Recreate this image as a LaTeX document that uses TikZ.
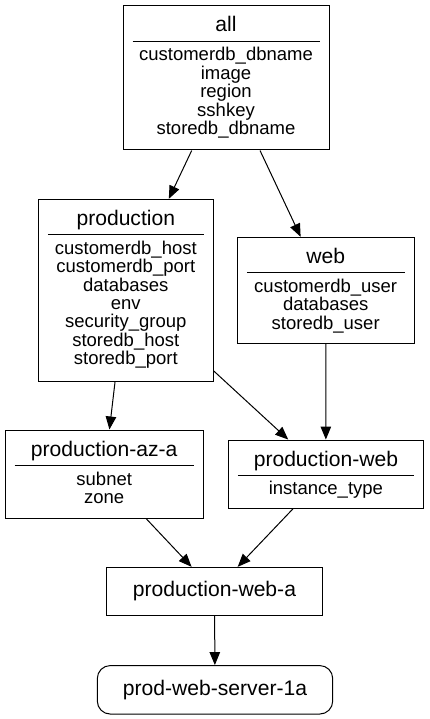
\documentclass[tikz,border=0pt]{standalone}
\usepackage{fontspec}
\setmainfont{Liberation Sans}
\usetikzlibrary{arrows.meta}
\tikzset{
  grp/.style={draw,line width=1pt,inner sep=0pt,fill=white},
  ttl/.style={font=\fontsize{21.1}{22}\selectfont,anchor=base,inner sep=0pt},
  var/.style={font=\fontsize{18.5}{18.4}\selectfont,anchor=base,inner sep=0pt},
  sep/.style={line width=1pt},
  dep/.style={-{Triangle[length=13pt,width=10.5pt]},line width=1pt}
}

\begin{document}
\begin{tikzpicture}[x=1pt,y=-1pt]
    \useasboundingbox (0,0) rectangle (429,719);
    % group boxes
    \node[grp,minimum width=206,minimum height=144] (all) at (226,78) {};
    \node[grp,minimum width=175,minimum height=181.7] (prod) at (125.8,290.2) {};
    \node[grp,minimum width=176.7,minimum height=106] (web) at (325.7,290.3) {};
    \node[grp,minimum width=198.3,minimum height=88] (prodaz) at (104.2,474) {};
    \node[grp,minimum width=195.2,minimum height=68.3] (prodweb) at (325.9,474.2) {};
    \node[grp,minimum width=215.6,minimum height=47.7,font=\fontsize{21.1}{22}\selectfont] (prodweba) at (214.5,591.2) {production-web-a};
    \node[grp,rounded corners=13pt,minimum width=235.4,minimum height=48.5,font=\fontsize{21.1}{22}\selectfont] (server) at (215,689.8) {prod-web-server-1a};
    % titles and rules
    \foreach \g/\t in {all/all,prod/production,web/web,prodaz/production-az-a,prodweb/production-web} {
      \node[ttl] (\g-title) at ([yshift=-26.5pt]\g.north) {\t};
      \draw[sep] ([xshift=10pt,yshift=-36pt]\g.north west) -- ([xshift=-10pt,yshift=-36pt]\g.north east);
    }
    % variables
    \foreach \v [count=\i from 0] in {customerdb\_dbname,image,region,sshkey,storedb\_dbname}
      \node[var] (all-\i) at ([yshift={-55.5-18.4*\i}]all.north) {\v};
    \foreach \v [count=\i from 0] in {customerdb\_host,customerdb\_port,databases,env,security\_group,storedb\_host,storedb\_port}
      \node[var] (prod-\i) at ([yshift={-55.5-18.4*\i}]prod.north) {\v};
    \foreach \v [count=\i from 0] in {customerdb\_user,databases,storedb\_user}
      \node[var] (web-\i) at ([yshift={-55.5-18.4*\i}]web.north) {\v};
    \foreach \v [count=\i from 0] in {subnet,zone}
      \node[var] (prodaz-\i) at ([yshift={-55.5-18.4*\i}]prodaz.north) {\v};
    \node[var] (prodweb-0) at ([yshift=-54.5pt]prodweb.north) {instance\_type};
    % edges
    \draw[dep] (all) -- (prod);
    \draw[dep] (all) -- (web);
    \draw[dep] (prod) -- (prodaz);
    \draw[dep] (prod) -- (prodweb);
    \draw[dep] (web) -- (prodweb);
    \draw[dep] (prodaz) -- (prodweba);
    \draw[dep] (prodweb) -- (prodweba);
    \draw[dep] (prodweba) -- (server);
\end{tikzpicture}
\end{document}
